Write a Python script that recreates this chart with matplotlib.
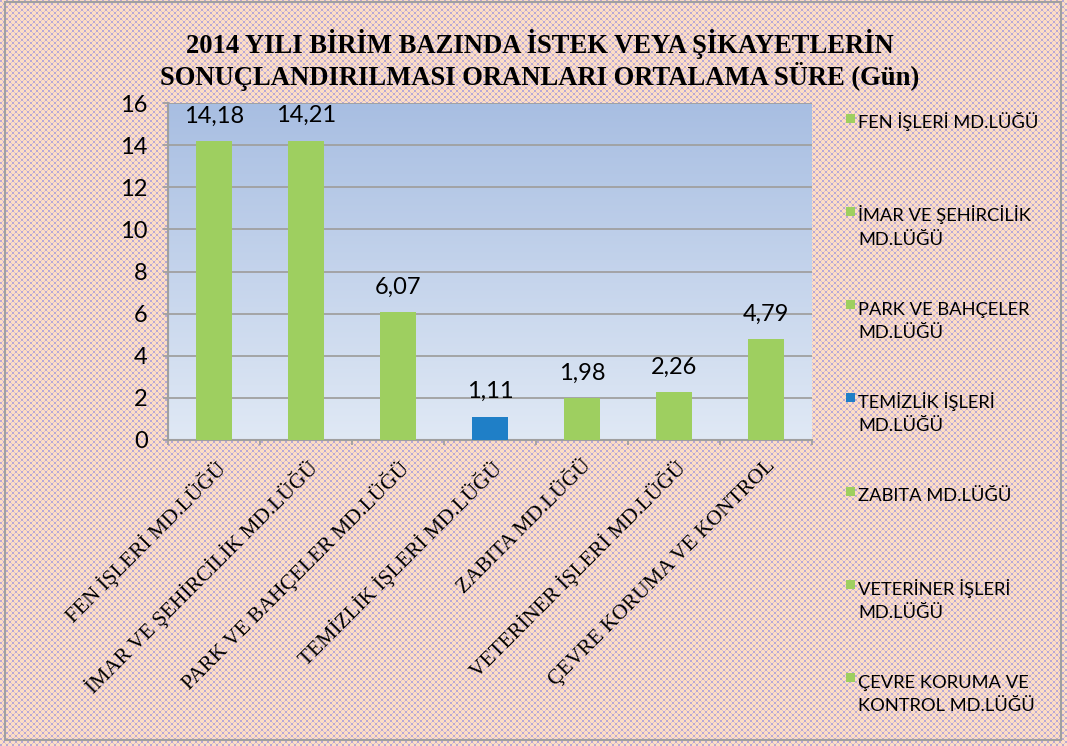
import numpy as np
import matplotlib
matplotlib.use('Agg')
import matplotlib.pyplot as plt
from matplotlib.patches import Rectangle

# birim adları, ortalama süreler (gün) ve çubuk renkleri
units = ['FEN İŞLERİ MD.LÜĞÜ', 'İMAR VE ŞEHİRCİLİK MD.LÜĞÜ', 'PARK VE BAHÇELER MD.LÜĞÜ',
         'TEMİZLİK İŞLERİ MD.LÜĞÜ', 'ZABITA MD.LÜĞÜ', 'VETERİNER İŞLERİ MD.LÜĞÜ',
         'ÇEVRE KORUMA VE KONTROL']
legend_labels = ['FEN İŞLERİ MD.LÜĞÜ', 'İMAR VE ŞEHİRCİLİK\nMD.LÜĞÜ', 'PARK VE BAHÇELER\nMD.LÜĞÜ',
                 'TEMİZLİK İŞLERİ\nMD.LÜĞÜ', 'ZABITA MD.LÜĞÜ', 'VETERİNER İŞLERİ\nMD.LÜĞÜ',
                 'ÇEVRE KORUMA VE\nKONTROL MD.LÜĞÜ']
days = [14.18, 14.21, 6.07, 1.11, 1.98, 2.26, 4.79]
GREEN, BLUE = '#9ECF60', '#1F7FC7'
bar_colors = [GREEN, GREEN, GREEN, BLUE, GREEN, GREEN, GREEN]
title = '2014 YILI BİRİM BAZINDA İSTEK VEYA ŞİKAYETLERİN\nSONUÇLANDIRILMASI ORANLARI ORTALAMA SÜRE (Gün)'

W, H = 1067, 746
fig = plt.figure(figsize=(W / 100, H / 100), dpi=100)

# dama desenli zemin
yy, xx = np.mgrid[0:H, 0:W]
a, b = xx % 6, yy % 6
peach = np.array([253, 221, 197]) / 255
lav = np.array([184, 168, 214]) / 255
mask = ((a < 2) & (b < 2)) | ((a >= 3) & (a < 5) & (b >= 3) & (b < 5))
mid = ((a == 2) | (a == 5)) & ((b == 2) | (b == 5))
bg = np.empty((H, W, 3))
bg[:] = peach
bg[mask] = lav
bg[mid] = (peach + lav) / 2
fig.figimage(bg, xo=0, yo=0, origin='upper', zorder=-10)

# çerçeve
fig.patches.append(Rectangle((5 / W, 6 / H), (1061 - 5) / W, (744 - 6) / H, transform=fig.transFigure,
                             fill=False, edgecolor='#A0A0A0', lw=1.5))

sans = 'Lato'
serif = 'Liberation Serif'

x0, x1, ytop, ybot = 168, 812, 103, 440
ax = fig.add_axes([x0 / W, 1 - ybot / H, (x1 - x0) / W, (ybot - ytop) / H])
ax.set_facecolor('none')
ax.set_xlim(-0.5, len(units) - 0.5)
ax.set_ylim(0, 16)

grad = np.linspace(0, 1, 256)[:, None]
top_c = np.array([168, 190, 226]) / 255
bot_c = np.array([224, 233, 245]) / 255
grad_img = top_c * (1 - grad[..., None]) + bot_c * grad[..., None]
ax.imshow(grad_img, extent=[-0.5, len(units) - 0.5, 0, 16], aspect='auto', zorder=0)

ax.set_yticks(np.arange(0, 17, 2))
ax.grid(axis='y', color='#A0A0A0', lw=1.3, zorder=1)
ax.set_axisbelow(True)

x = np.arange(len(units))
ax.bar(x, days, width=0.4, color=bar_colors, zorder=3)
for i, v in enumerate(days):
    ax.annotate(f'{v:.2f}'.replace('.', ','), (i, v), xytext=(0, 13.5), textcoords='offset points',
                ha='center', va='baseline', fontsize=17, family=sans, zorder=4)

for s in ('top', 'right'):
    ax.spines[s].set_visible(False)
for s in ('left', 'bottom'):
    ax.spines[s].set_color('#A0A0A0')
    ax.spines[s].set_linewidth(1.5)

ax.tick_params(axis='y', length=3.6, width=1.3, color='#A0A0A0', pad=11, labelsize=17)
for lbl in ax.get_yticklabels():
    lbl.set_family(sans)

ax.set_xticks(x)
ax.set_xticklabels(units, rotation=45, ha='right', rotation_mode='anchor', family=serif, fontsize=15.5)
ax.tick_params(axis='x', which='major', length=0, pad=12)
ax.set_xticks(np.arange(-0.5, len(units)), minor=True)
ax.tick_params(axis='x', which='minor', length=3.6, width=1.3, color='#A0A0A0')

fig.text(540 / W, 1 - 60 / H, title, ha='center', va='center', family=serif, weight='bold',
         fontsize=19.2, linespacing=1.1)

# elle çizilen açıklama kutusu
for i, (lab, col) in enumerate(zip(legend_labels, bar_colors)):
    base = 128 + i * 93.3
    fig.patches.append(Rectangle((846 / W, 1 - (base - 5.5) / H), 9 / W, 9 / H,
                                 transform=fig.transFigure, color=col, lw=0))
    for j, line in enumerate(lab.split('\n')):
        fig.text(858 / W, 1 - (base + 23.5 * j) / H, line, ha='left', va='baseline',
                 family=sans, fontsize=13.2)

fig.savefig('out.png', dpi=100)
